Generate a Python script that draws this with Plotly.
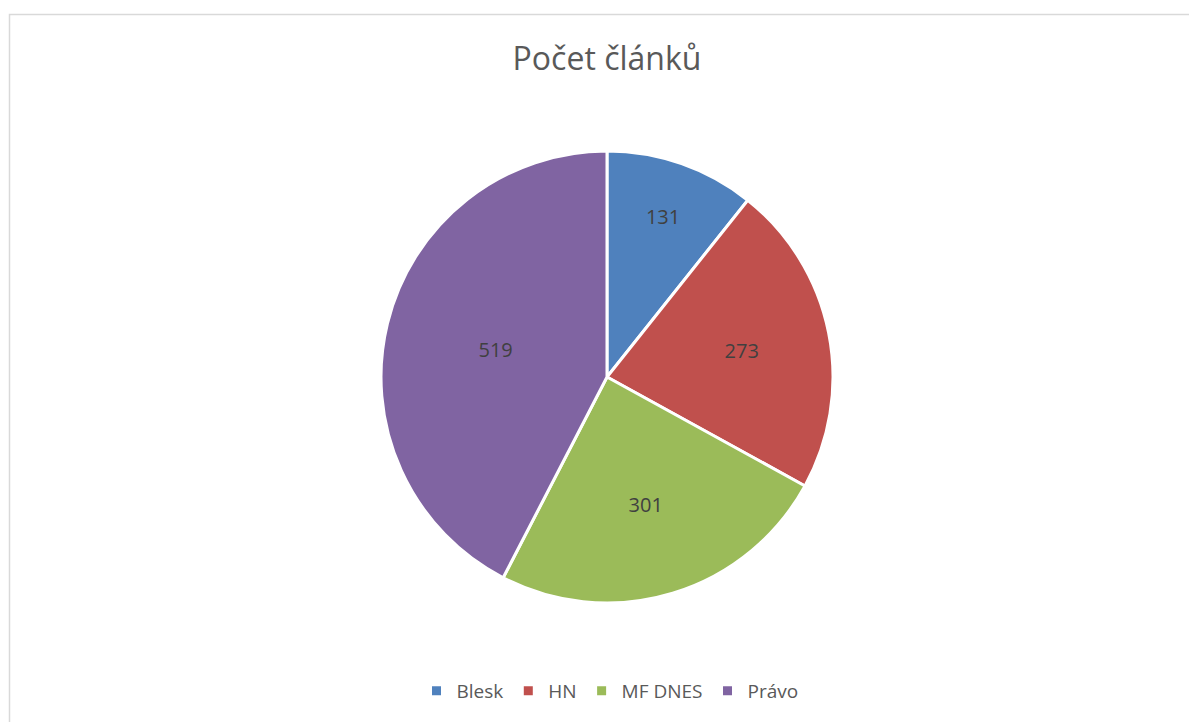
import plotly.graph_objects as go

W, H = 1197, 722
OFF = 8  # page body margin offset
labels = ["Blesk", "HN", "MF DNES", "Právo"]
values = [131, 273, 301, 519]
colors = ["#4F81BD", "#C0504D", "#9BBB59", "#8064A2"]

cx, cy, r = 607 - OFF, 377 - OFF, 226
fig = go.Figure(go.Pie(
    labels=labels, values=values, sort=False, direction="clockwise", rotation=0,
    marker=dict(colors=colors, line=dict(color="white", width=3)),
    textinfo="value", textposition="inside", insidetextorientation="horizontal",
    textfont=dict(size=20, color="#404040", family="Open Sans"),
    hoverinfo="label+value+percent",
    domain=dict(x=[(cx - r) / W, (cx + r) / W], y=[1 - (cy + r) / H, 1 - (cy - r) / H]),
))

fig.update_layout(
    width=W, height=H,
    margin=dict(l=0, r=0, t=0, b=0),
    paper_bgcolor="white",
    font=dict(family="Open Sans", color="#595959"),
    title=dict(text="Počet článků", x=(607 - OFF) / W, xanchor="center", y=1 - (59 - OFF) / H,
               yanchor="middle", font=dict(size=32, color="#595959", family="Open Sans")),
    legend=dict(orientation="h", x=(610 - OFF) / W, xanchor="center", y=1 - (691 - OFF) / H,
                yanchor="middle", font=dict(size=19, color="#595959"), itemwidth=30,
                traceorder="normal"),
    shapes=[dict(type="rect", xref="paper", yref="paper", x0=(9.5 - OFF) / W, x1=(1196 - OFF) / W,
                 y0=-0.05, y1=1 - (14.5 - OFF) / H, line=dict(color="#D9D9D9", width=1.5))],
)

fig.write_html("out.html")
